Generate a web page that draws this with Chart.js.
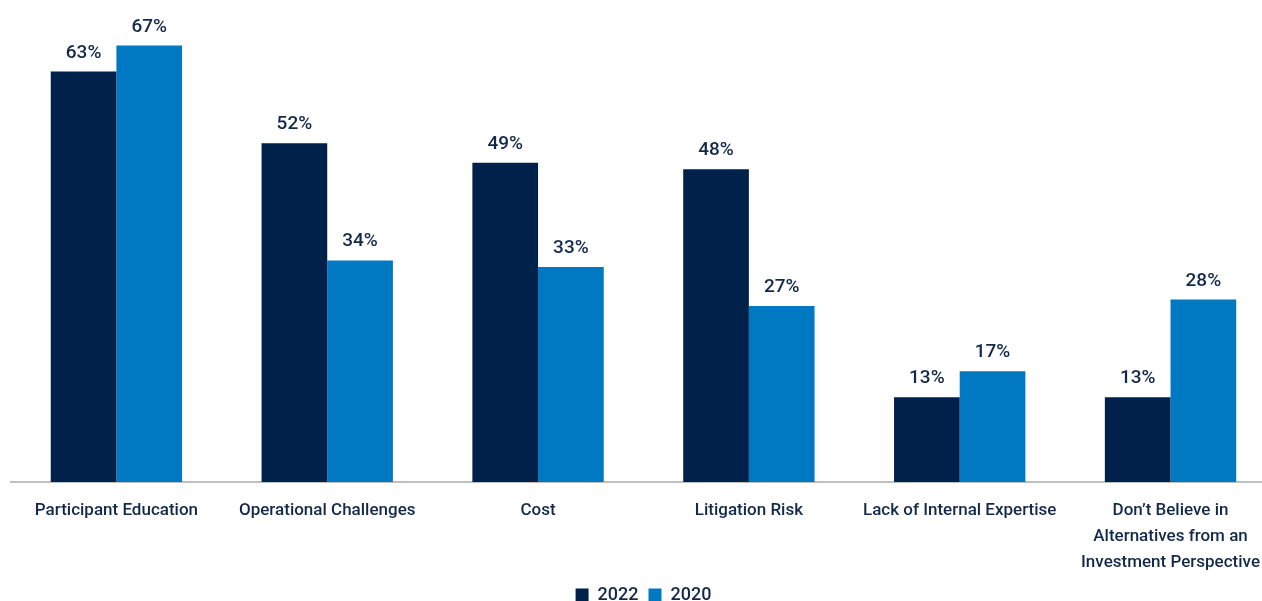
<!DOCTYPE html>
<html>
<head>
<meta charset="utf-8">
<script src="https://cdn.jsdelivr.net/npm/chart.js@4"></script>
<style>
html,body{margin:0;padding:0;background:#fff;overflow:hidden;width:1262px;height:601px;}
#wrap{width:1276px;height:601px;position:relative;}
</style>
</head>
<body>
<div id="wrap"><canvas id="c"></canvas></div>
<script>
const categories = [
  "Participant Education",
  "Operational Challenges",
  "Cost",
  "Litigation Risk",
  "Lack of Internal Expertise",
  ["Don\u2019t Believe in", "Alternatives from an", "Investment Perspective"]
];
const values2022 = [63, 52, 49, 48, 13, 13];
const values2020 = [67, 34, 33, 27, 17, 28];
const seriesNames = ["2022", "2020"];

const FONT = "Roboto, 'Liberation Sans', sans-serif";
const TEXT = "#13294B";

const valueLabels = {
  id: 'valueLabels',
  afterDatasetsDraw(chart) {
    const ctx = chart.ctx;
    ctx.save();
    ctx.font = "500 19px " + FONT;
    ctx.fillStyle = TEXT;
    ctx.textAlign = 'center';
    ctx.textBaseline = 'alphabetic';
    chart.data.datasets.forEach((ds, i) => {
      const meta = chart.getDatasetMeta(i);
      meta.data.forEach((bar, j) => {
        ctx.fillText(ds.data[j] + '%', bar.x, bar.y - 14);
      });
    });
    ctx.restore();
  }
};

new Chart(document.getElementById('c'), {
  type: 'bar',
  data: {
    labels: categories,
    datasets: [
      { label: seriesNames[0], data: values2022, backgroundColor: '#00214A', borderWidth: 0 },
      { label: seriesNames[1], data: values2020, backgroundColor: '#0079C2', borderWidth: 0 }
    ]
  },
  options: {
    responsive: true,
    maintainAspectRatio: false,
    animation: false,
    layout: { padding: { left: 11, right: 0, top: 26, bottom: -13 } },
    datasets: { bar: { categoryPercentage: 0.623, barPercentage: 1.0 } },
    plugins: {
      tooltip: { enabled: false },
      legend: {
        position: 'bottom',
        labels: {
          color: TEXT,
          font: { family: FONT, size: 18, weight: '500' },
          boxWidth: 13,
          boxHeight: 13,
          padding: 10,
          useBorderRadius: false
        }
      }
    },
    scales: {
      x: {
        grid: { display: false, drawTicks: false },
        border: { display: true, color: '#BFBFBF', width: 2 },
        afterFit(scale) { scale.height -= 16; },
        ticks: {
          color: TEXT,
          font: { family: FONT, size: 17, weight: '500', lineHeight: 1.53 },
          padding: 16,
          maxRotation: 0,
          autoSkip: false
        }
      },
      y: {
        display: false,
        min: 0,
        max: 70
      }
    }
  },
  plugins: [valueLabels]
});
</script>
</body>
</html>
